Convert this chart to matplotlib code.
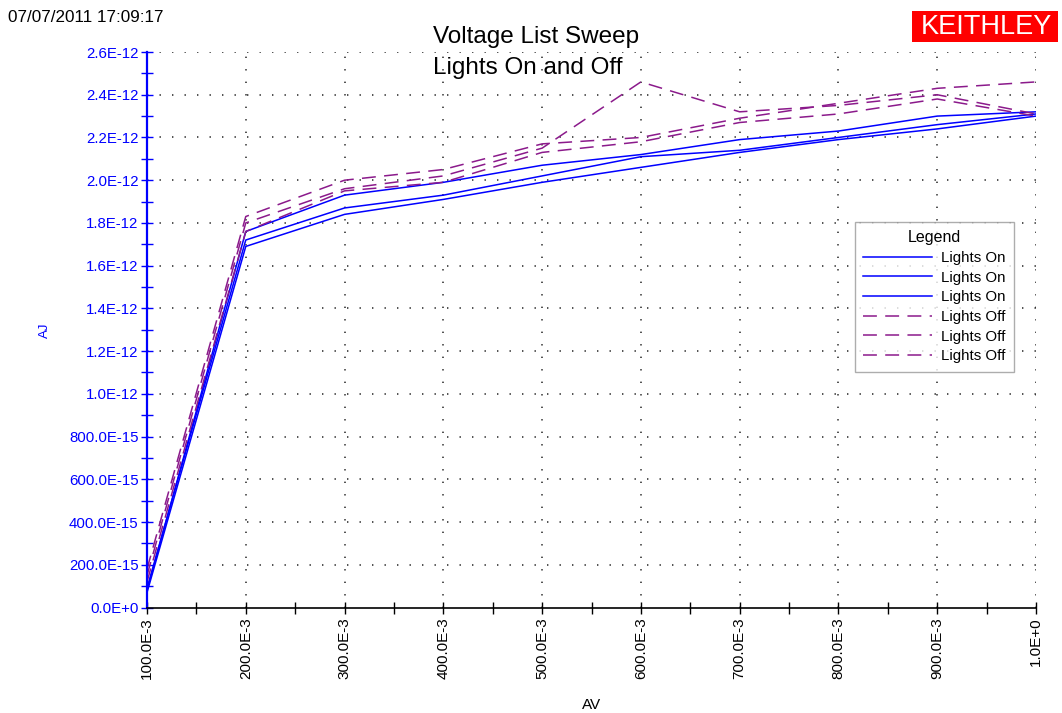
import matplotlib.pyplot as plt
from matplotlib.patches import Rectangle

plt.rcParams['font.family'] = ['Liberation Sans', 'DejaVu Sans']
plt.rcParams['lines.scale_dashes'] = False

# Sweep voltages (V) and currents (units of 1E-12 A)
voltage = [0.1, 0.2, 0.3, 0.4, 0.5, 0.6, 0.7, 0.8, 0.9, 1.0]

on_1 = [0.08, 1.76, 1.93, 1.99, 2.07, 2.12, 2.19, 2.23, 2.30, 2.32]
on_2 = [0.09, 1.72, 1.87, 1.93, 2.02, 2.11, 2.14, 2.20, 2.26, 2.31]
on_3 = [0.07, 1.69, 1.84, 1.91, 1.99, 2.06, 2.13, 2.19, 2.24, 2.30]

off_1 = [0.15, 1.80, 1.96, 2.02, 2.15, 2.46, 2.32, 2.35, 2.40, 2.31]
off_2 = [0.18, 1.83, 2.00, 2.05, 2.17, 2.20, 2.29, 2.36, 2.43, 2.46]
off_3 = [0.12, 1.76, 1.95, 1.99, 2.13, 2.18, 2.27, 2.31, 2.38, 2.30]

y_ticks = [0.0, 0.2, 0.4, 0.6, 0.8, 1.0, 1.2, 1.4, 1.6, 1.8, 2.0, 2.2, 2.4, 2.6]
y_labels = ['0.0E+0', '200.0E-15', '400.0E-15', '600.0E-15', '800.0E-15',
            '1.0E-12', '1.2E-12', '1.4E-12', '1.6E-12', '1.8E-12',
            '2.0E-12', '2.2E-12', '2.4E-12', '2.6E-12']
x_labels = ['100.0E-3', '200.0E-3', '300.0E-3', '400.0E-3', '500.0E-3',
            '600.0E-3', '700.0E-3', '800.0E-3', '900.0E-3', '1.0E+0']

fig = plt.figure(figsize=(10.62, 7.13), dpi=100)
ax = fig.add_axes([147 / 1062, 1 - 607.5 / 713, (1036 - 147) / 1062, (607.5 - 52) / 713])

blue = '#0000ff'
purple = '#8b1a8b'
for s in [on_1, on_2, on_3]:
    ax.plot(voltage, s, color=blue, lw=1.1, label='Lights On')
for s in [off_1, off_2, off_3]:
    ax.plot(voltage, s, color=purple, lw=1.1, linestyle=(0, (10, 6)), label='Lights Off')

ax.set_xlim(0.1, 1.0)
ax.set_ylim(0, 2.6)
ax.set_xticks(voltage)
ax.set_xticklabels(x_labels, rotation=90, fontsize=11)
ax.set_xticks([0.15, 0.25, 0.35, 0.45, 0.55, 0.65, 0.75, 0.85, 0.95], minor=True)
ax.set_yticks(y_ticks)
ax.set_yticklabels(y_labels, fontsize=10.8, color=blue)
ax.set_yticks([0.1, 0.3, 0.5, 0.7, 0.9, 1.1, 1.3, 1.5, 1.7, 1.9, 2.1, 2.3, 2.5], minor=True)

ax.tick_params(axis='both', which='both', direction='inout', length=8, width=1)
ax.tick_params(axis='y', which='both', colors=blue, labelcolor=blue, pad=2)
ax.tick_params(axis='x', which='both', pad=3)

ax.spines['top'].set_visible(False)
ax.spines['right'].set_visible(False)
ax.spines['left'].set_color(blue)
ax.spines['left'].set_linewidth(1.6)
ax.spines['bottom'].set_linewidth(1.2)

# dotted grid
for v in voltage[1:]:
    ax.axvline(v, color='#222222', lw=1.1, linestyle=(0, (1, 8)), zorder=0)
for v in y_ticks[1:]:
    ax.axhline(v, color='#222222', lw=1.1, linestyle=(0, (1, 8)), zorder=0)

ax.set_xlabel('AV', fontsize=11, labelpad=14)
fig.text(45 / 1062, 1 - 330 / 713, 'AJ', rotation=90, color=blue, fontsize=9.5,
         ha='center', va='center')

fig.text(536 / 1062, 1 - 37 / 713, 'Voltage List Sweep', fontsize=17.5, ha='center', va='center')
fig.text(528 / 1062, 1 - 68 / 713, 'Lights On and Off', fontsize=17.5, ha='center', va='center')
fig.text(8 / 1062, 1 - 17 / 713, '07/07/2011 17:09:17', fontsize=12.3, ha='left', va='center')

fig.patches.append(Rectangle((912 / 1062, 1 - 42 / 713), 146 / 1062, 31 / 713,
                             transform=fig.transFigure, facecolor='#ff0000',
                             edgecolor='none'))
fig.text(986 / 1062, 1 - 27 / 713, 'KEITHLEY', fontsize=19.5, color='white',
         ha='center', va='center')

leg = ax.legend(loc='upper left', bbox_to_anchor=(855 / 1062, 1 - 222 / 713),
                bbox_transform=fig.transFigure, title='Legend', fontsize=10.8,
                title_fontsize=11.5, frameon=True, fancybox=False, shadow=False,
                handlelength=4.6, labelspacing=0.38, borderpad=0.55, handletextpad=0.6,
                borderaxespad=0)
leg.get_frame().set_edgecolor('#999999')
leg.get_frame().set_linewidth(1.0)

fig.savefig('out.png', dpi=100)
